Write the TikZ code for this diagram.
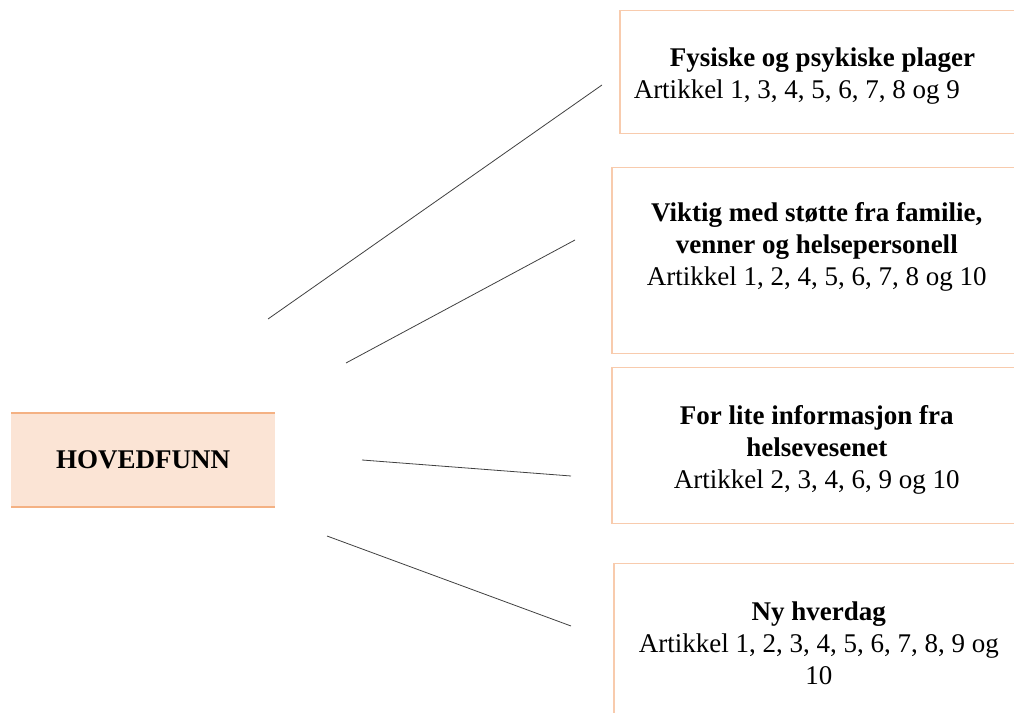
\documentclass[tikz,border=0pt]{standalone}
\usepackage{fontspec}
\setmainfont{Liberation Serif}
\usepackage{tikz}
\usetikzlibrary{positioning}
\definecolor{peach}{HTML}{FBE4D5}
\definecolor{peachline}{HTML}{F4B183}
\definecolor{boxline}{HTML}{F8CBAD}

\begin{document}
\begin{tikzpicture}[x=1pt, y=1pt, font=\fontsize{27}{32}\selectfont,
  main/.style={fill=peach, minimum width=264pt, minimum height=94pt, anchor=north west, font=\fontsize{27}{32}\selectfont\bfseries},
  box/.style={draw=boxline, line width=1.5pt, anchor=north west, inner xsep=12pt, text width=386pt, align=flush center},
  link/.style={draw=black!75, line width=0.8pt}]
\useasboundingbox (0,0) rectangle (1014,712);
\clip (0,0) rectangle (1014,712);
\node[main] (hf) at (11,299) {HOVEDFUNN};
\draw[peachline, line width=2pt] (hf.north west) -- (hf.north east) (hf.south west) -- (hf.south east);
\node[box, inner xsep=14pt, text width=392pt, align=flush left, minimum height=123pt] (b1) at (619,702)
  {\rule{0pt}{27pt}\hspace*{36pt}\textbf{Fysiske og psykiske plager}\\Artikkel 1, 3, 4, 5, 6, 7, 8 og 9};
\node[box, minimum height=186pt] (b2) at (611,545)
  {\textbf{Viktig med støtte fra familie,}\\\textbf{venner og helsepersonell}\\Artikkel 1, 2, 4, 5, 6, 7, 8 og 10\rule[-34pt]{0pt}{34pt}};
\node[box, minimum height=156pt] (b3) at (611,345)
  {\rule{0pt}{27pt}\textbf{For lite informasjon fra}\\\textbf{helsevesenet}\\Artikkel 2, 3, 4, 6, 9 og 10};
\node[box, minimum height=160pt] (b4) at (613,149)
  {\textbf{Ny hverdag}\\Artikkel 1, 2, 3, 4, 5, 6, 7, 8, 9 og\\10};
\coordinate (s1) at (268,393);
\coordinate (t1) at (602,627);
\coordinate (s2) at (346,349);
\coordinate (t2) at (575,472);
\coordinate (s3) at (362,252);
\coordinate (t3) at (571,236);
\coordinate (s4) at (327,176);
\coordinate (t4) at (571,86);
\foreach \n in {1,...,4} \draw[link] (s\n) -- (t\n);
\end{tikzpicture}
\end{document}
